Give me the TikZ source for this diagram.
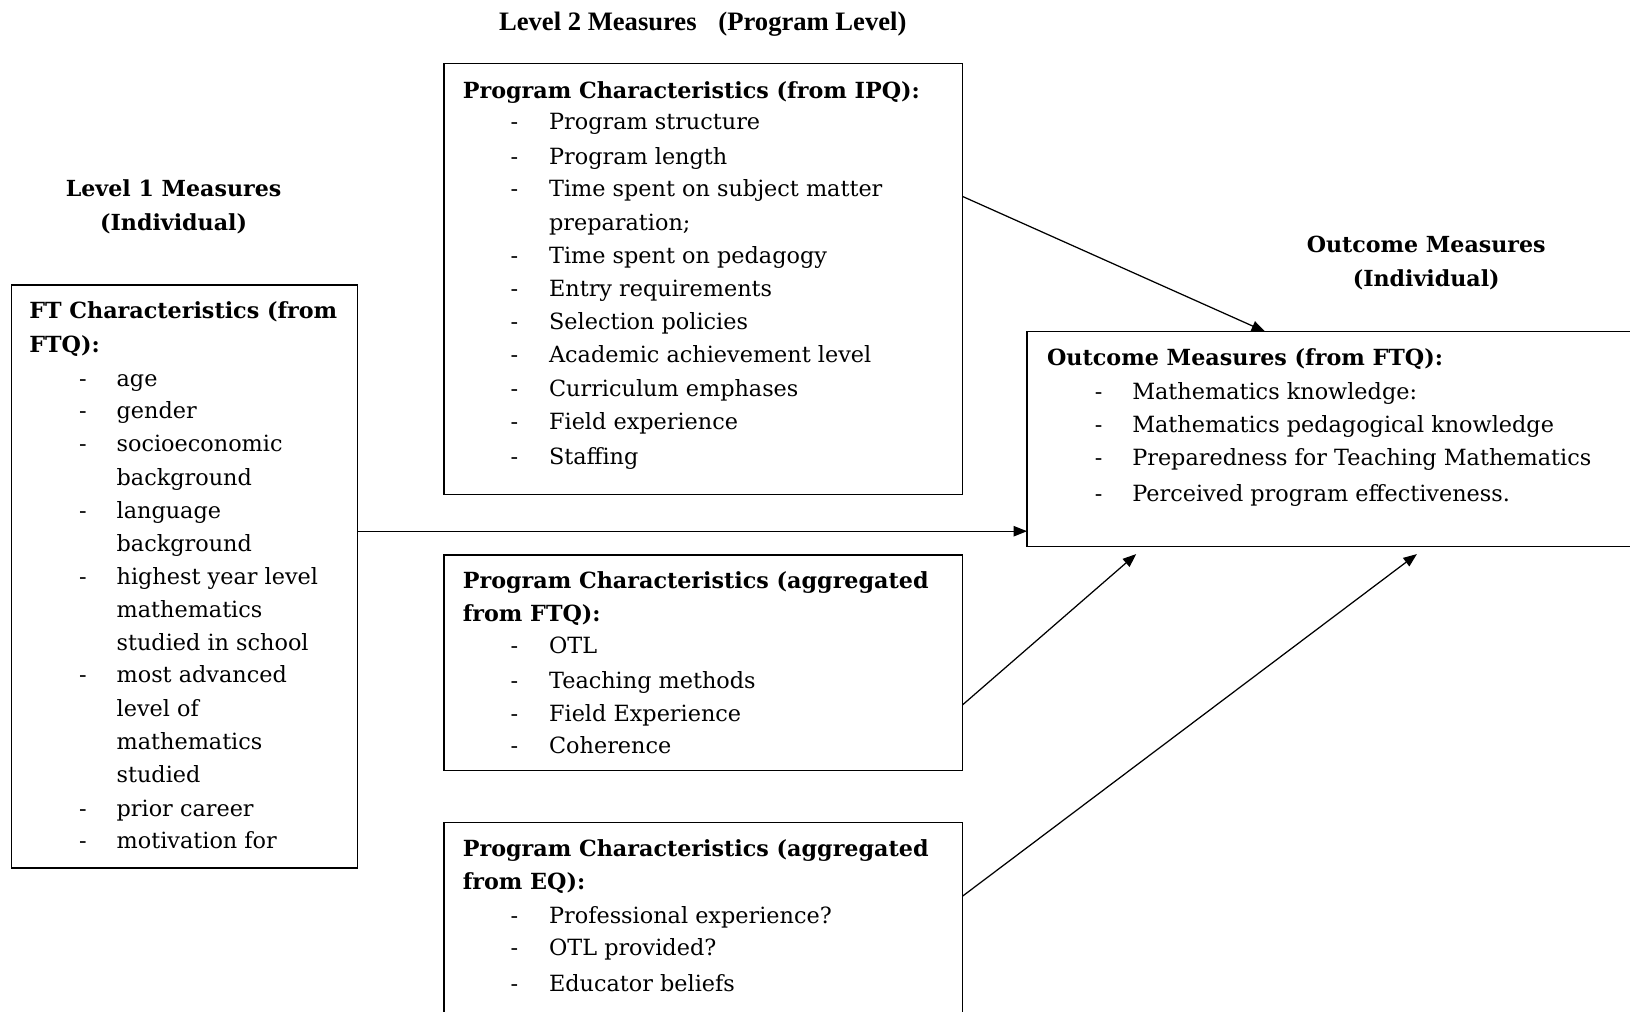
\documentclass[tikz,border=0pt]{standalone}
\usepackage{fontspec}
\setmainfont{DejaVu Serif}
\newfontfamily\tnr{Liberation Serif}
\usetikzlibrary{arrows.meta,calc}
\begin{document}
\begin{tikzpicture}[x=1pt,y=1pt,
  box/.style={draw,line width=1.3pt,anchor=north west,inner sep=0pt,outer sep=0pt},
  txt/.style={anchor=base west,inner sep=0pt,yshift=-2pt,font=\fontsize{21.5}{24}\selectfont},
  hd/.style={anchor=base west,inner sep=0pt,yshift=-2pt,font=\fontsize{21.4}{24}\selectfont\bfseries},
  ttl/.style={anchor=base,inner sep=0pt,yshift=-1pt,font=\fontsize{21.3}{24}\selectfont\bfseries},
  arr/.style={line width=1.2pt,-{Triangle[length=13pt,width=10pt]}}]
\useasboundingbox (0,0) rectangle (1568,-973);
\clip (0,0) rectangle (1568,-973);
% boxes
\node[box,minimum width=499pt,minimum height=415pt] (ipq) at (427,-61) {};
\node[box,minimum width=499pt,minimum height=207pt] (agg) at (427,-534) {};
\node[box,minimum width=499pt,minimum height=200pt] (eq) at (427,-791) {};
\node[box,minimum width=333pt,minimum height=561pt] (ft) at (11,-274) {};
\node[box,minimum width=600pt,minimum height=207pt] (out) at (988,-319) {};
% arrows
\draw[arr] ($(ipq.north east)+(0,-128)$) -- ($(out.north west)+(229,0)$);
\draw[arr] ($(ft.north east)+(0,-237)$) coordinate (fts) -- (out.west |- fts);
\draw[arr] ($(agg.north east)+(0,-144)$) -- ($(out.south west)+(105,-7)$);
\draw[arr] ($(eq.north east)+(0,-71)$) -- ($(out.south west)+(375,-7)$);
% titles
\node[ttl,font=\tnr\fontsize{25.6}{30}\selectfont\bfseries] (l2) at (676,-28) {Level 2 Measures\hspace{21pt}(Program Level)};
\node[ttl] (l1a) at (167,-188) {Level 1 Measures};
\node[ttl] (l1b) at (167,-221) {(Individual)};
\node[ttl] (oma) at (1372,-242) {Outcome Measures};
\node[ttl] (omb) at (1372,-275) {(Individual)};
% IPQ box
\node[hd] (ipqh) at (445,-93) {Program Characteristics (from IPQ):};
\foreach \y/\t in {123/{Program structure},156/{Program length},187/{Time spent on subject matter},251/{Time spent on pedagogy},283/{Entry requirements},315/{Selection policies},347/{Academic achievement level},379/{Curriculum emphases},411/{Field experience},445/{Staffing}}
  {\node[txt] (ipqd\y) at (491,-\y) {-}; \node[txt] (ipqi\y) at (528,-\y) {\t};}
\node[txt] (ipqc) at (528,-220) {preparation;};
% aggregated FTQ box
\node[hd] (aggh1) at (445,-564) {Program Characteristics (aggregated};
\node[hd] (aggh2) at (445,-596) {from FTQ):};
\foreach \y/\t in {627/{OTL},660/{Teaching methods},692/{Field Experience},723/{Coherence}}
  {\node[txt] (aggd\y) at (491,-\y) {-}; \node[txt] (aggi\y) at (528,-\y) {\t};}
% EQ box
\node[hd] (eqh1) at (445,-822) {Program Characteristics (aggregated};
\node[hd] (eqh2) at (445,-854) {from EQ):};
\foreach \y/\t in {886/{Professional experience?},917/{OTL provided?},952/{Educator beliefs}}
  {\node[txt] (eqd\y) at (491,-\y) {-}; \node[txt] (eqi\y) at (528,-\y) {\t};}
% FT box
\node[hd] (fth1) at (28,-304) {FT Characteristics (from};
\node[hd] (fth2) at (28,-337) {FTQ):};
\foreach \y/\t in {370/{age},401/{gender},432/{socioeconomic},497/{language},560/{highest year level},655/{most advanced},783/{prior career},814/{motivation for}}
  {\node[txt] (ftd\y) at (76,-\y) {-}; \node[txt] (fti\y) at (112,-\y) {\t};}
\foreach \y/\t in {465/{background},529/{background},592/{mathematics},624/{studied in school},687/{level of},719/{mathematics},751/{studied}}
  {\node[txt] (ftc\y) at (112,-\y) {\t};}
% Outcome box
\node[hd] (outh) at (1007,-350) {Outcome Measures (from FTQ):};
\foreach \y/\t in {382/{Mathematics knowledge:},414/{Mathematics pedagogical knowledge},446/{Preparedness for Teaching Mathematics},480/{Perceived program effectiveness.}}
  {\node[txt] (outd\y) at (1053,-\y) {-}; \node[txt] (outi\y) at (1089,-\y) {\t};}
\end{tikzpicture}
\end{document}
